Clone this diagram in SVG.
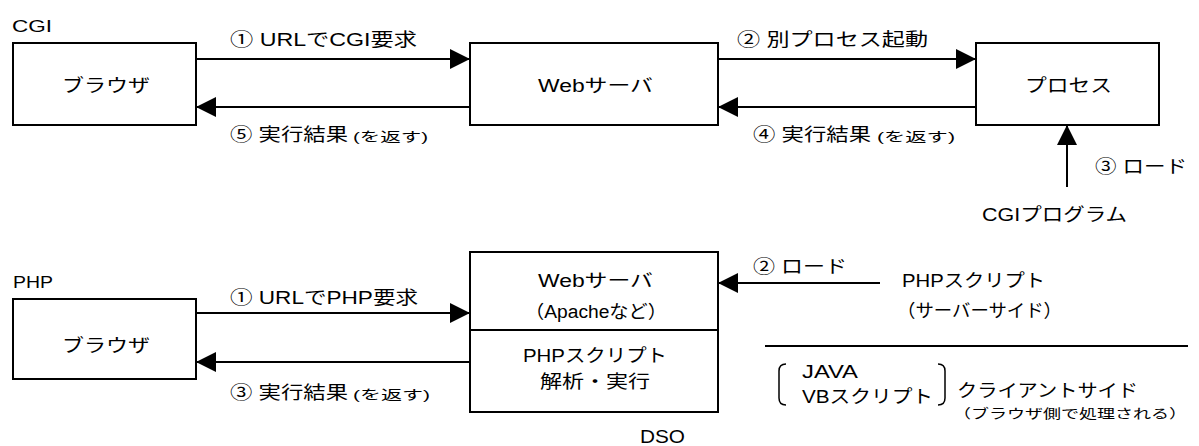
<svg xmlns="http://www.w3.org/2000/svg" width="1199" height="446" viewBox="0 0 1199 446">
<defs>
<marker id="ah" viewBox="0 0 20 20" markerWidth="20" markerHeight="20" refX="20" refY="10" orient="auto" markerUnits="userSpaceOnUse">
<path d="M0,0 L20,10 L0,20 Z" fill="#000"/>
</marker>
<style>
text{font-family:"Liberation Sans","Noto Sans CJK JP",sans-serif;font-size:18px;fill:#000}
.s{font-size:13px}
.h{font-size:16px}
.box{fill:#fff;stroke:#000;stroke-width:2}
.ln{fill:none;stroke:#000;stroke-width:2}
.br{fill:none;stroke:#000;stroke-width:1.5}
.ar{stroke:#000;stroke-width:2;fill:none;marker-end:url(#ah)}
</style>
</defs>
<rect width="1199" height="446" fill="#fff"/>
<text class="h" x="12" y="32" textLength="40" lengthAdjust="spacingAndGlyphs">CGI</text>
<text class="h" x="13" y="288" textLength="40" lengthAdjust="spacingAndGlyphs">PHP</text>

<g id="cgi-browser"><rect class="box" x="13" y="43" width="183" height="82"/><text x="62" y="92" textLength="88" lengthAdjust="spacingAndGlyphs">ブラウザ</text></g>
<g id="cgi-web"><rect class="box" x="470" y="43" width="248" height="82"/><text x="538" y="92" textLength="115" lengthAdjust="spacingAndGlyphs">Webサーバ</text></g>
<g id="cgi-process"><rect class="box" x="976" y="43" width="183" height="82"/><text x="1025" y="92" textLength="87" lengthAdjust="spacingAndGlyphs">プロセス</text></g>
<g id="cgi-program"><text x="982" y="221" textLength="145" lengthAdjust="spacingAndGlyphs">CGIプログラム</text></g>

<g id="php-browser"><rect class="box" x="13" y="299" width="183" height="80"/><text x="62" y="352" textLength="88" lengthAdjust="spacingAndGlyphs">ブラウザ</text></g>
<g id="php-web"><rect class="box" x="470" y="252" width="248" height="160"/><line class="ln" x1="470" y1="330" x2="718" y2="330"/>
<text x="538" y="287" textLength="115" lengthAdjust="spacingAndGlyphs">Webサーバ</text>
<text x="525" y="318" textLength="142" lengthAdjust="spacingAndGlyphs">（Apacheなど）</text>
<text x="523" y="362" textLength="144" lengthAdjust="spacingAndGlyphs">PHPスクリプト</text>
<text x="540" y="388" textLength="110" lengthAdjust="spacingAndGlyphs">解析・実行</text></g>
<g id="dso"><text x="640" y="443" textLength="45" lengthAdjust="spacingAndGlyphs">DSO</text></g>
<g id="php-script"><text x="902" y="287" textLength="143" lengthAdjust="spacingAndGlyphs">PHPスクリプト</text><text x="897" y="317" textLength="165" lengthAdjust="spacingAndGlyphs">（サーバーサイド）</text></g>
<g id="client"><line class="ln" x1="765" y1="346" x2="1188" y2="346"/>
<path class="br" d="M786,364 Q779,364 779,371 L779,398 Q779,405 786,405"/>
<path class="br" d="M938,364 Q945,364 945,371 L945,398 Q945,405 938,405"/>
<text x="802" y="378" textLength="56" lengthAdjust="spacingAndGlyphs">JAVA</text>
<text x="802" y="403" textLength="131" lengthAdjust="spacingAndGlyphs">VBスクリプト</text>
<text x="957" y="397" textLength="181" lengthAdjust="spacingAndGlyphs">クライアントサイド</text>
<text class="s" x="953" y="418" textLength="234" lengthAdjust="spacingAndGlyphs">（ブラウザ側で処理される）</text></g>

<g id="connectors">
<line class="ar" x1="196" y1="59" x2="470" y2="59"/>
<line class="ar" x1="470" y1="107" x2="196" y2="107"/>
<line class="ar" x1="718" y1="59" x2="976" y2="59"/>
<line class="ar" x1="976" y1="107" x2="718" y2="107"/>
<line class="ar" x1="1067" y1="187" x2="1067" y2="125"/>
<line class="ar" x1="196" y1="313" x2="470" y2="313"/>
<line class="ar" x1="470" y1="362" x2="196" y2="362"/>
<line class="ar" x1="880" y1="283" x2="718" y2="283"/>
</g>
<g id="labels">
<text x="230" y="46" textLength="187" lengthAdjust="spacingAndGlyphs">① URLでCGI要求</text>
<text x="230" y="141" textLength="118" lengthAdjust="spacingAndGlyphs">⑤ 実行結果</text><text class="s" x="353" y="141" textLength="75" lengthAdjust="spacingAndGlyphs">(を返す)</text>
<text x="737" y="46" textLength="191" lengthAdjust="spacingAndGlyphs">② 別プロセス起動</text>
<text x="753" y="141" textLength="118" lengthAdjust="spacingAndGlyphs">④ 実行結果</text><text class="s" x="877" y="141" textLength="78" lengthAdjust="spacingAndGlyphs">(を返す)</text>
<text x="1095" y="173" textLength="92" lengthAdjust="spacingAndGlyphs">③ ロード</text>
<text x="230" y="304" textLength="188" lengthAdjust="spacingAndGlyphs">① URLでPHP要求</text>
<text x="230" y="399" textLength="118" lengthAdjust="spacingAndGlyphs">③ 実行結果</text><text class="s" x="353" y="399" textLength="77" lengthAdjust="spacingAndGlyphs">(を返す)</text>
<text x="753" y="273" textLength="94" lengthAdjust="spacingAndGlyphs">② ロード</text>
</g>
</svg>
